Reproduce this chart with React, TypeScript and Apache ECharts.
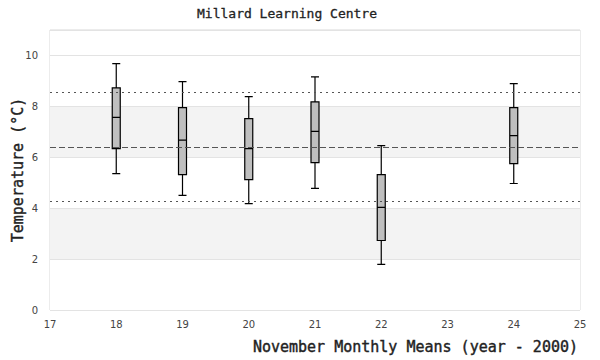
import React, { useEffect, useRef } from "react";
import * as echarts from "echarts";

const years = [18, 19, 20, 21, 22, 24];
const mins = [5.36, 4.5, 4.18, 4.78, 1.79, 4.97];
const q1s = [6.34, 5.32, 5.12, 5.79, 2.73, 5.75];
const medians = [7.57, 6.67, 6.34, 7.02, 4.03, 6.85];
const q3s = [8.73, 7.95, 7.52, 8.18, 5.32, 7.95];
const maxs = [9.68, 8.97, 8.38, 9.16, 6.46, 8.89];

const meanLine = 6.38;
const upperLine = 8.57;
const lowerLine = 4.26;

const titleText = "Millard Learning Centre";
const xName = "November Monthly Means (year - 2000)";
const yName = "Temperature (°C)";

const mono = "DejaVu Sans Mono";
const sans = "DejaVu Sans";

export default function App() {
  const ref = useRef<HTMLDivElement>(null);
  useEffect(() => {
    if (!ref.current) return;
    const chart = echarts.init(ref.current, null, { renderer: "svg" });
    const data = years.map((y, i) => [y, mins[i], q1s[i], medians[i], q3s[i], maxs[i]]);
    const nameStyle = {
      fontFamily: mono,
      fontSize: 15,
      fontWeight: "normal",
      color: "#222",
      textBorderColor: "#222",
      textBorderWidth: 0.4,
    };
    chart.setOption({
      animation: false,
      backgroundColor: "#fff",
      title: {
        text: titleText,
        left: 197,
        top: 7,
        padding: 0,
        textStyle: {
          fontFamily: mono,
          fontSize: 13,
          fontWeight: "normal",
          color: "#222",
          textBorderColor: "#222",
          textBorderWidth: 0.3,
        },
      },
      grid: {
        left: 50,
        right: 20,
        top: 30,
        bottom: 50,
        containLabel: false,
        outerBoundsMode: "none",
        show: true,
        borderColor: "#d9d9d9",
        borderWidth: 1,
        backgroundColor: "transparent",
      },
      xAxis: {
        type: "value",
        min: 17,
        max: 25,
        interval: 1,
        name: xName,
        nameLocation: "end",
        nameGap: 0,
        nameMoveOverlap: false,
        nameTextStyle: {
          ...nameStyle,
          align: "right",
          verticalAlign: "top",
          padding: [29, 2, 0, 0],
        },
        axisLine: { show: false },
        axisTick: { show: false },
        splitLine: { show: false },
        axisLabel: { fontFamily: sans, fontSize: 10, color: "#444", margin: 9 },
      },
      yAxis: {
        type: "value",
        min: 0,
        max: 11,
        interval: 2,
        name: yName,
        nameLocation: "middle",
        nameGap: 25,
        nameMoveOverlap: false,
        nameTextStyle: nameStyle,
        axisLine: { show: false },
        axisTick: { show: false },
        axisLabel: { fontFamily: sans, fontSize: 10, color: "#444", margin: 12, showMaxLabel: false },
        splitLine: { show: true, lineStyle: { color: "#e3e3e3", width: 1 } },
        splitArea: {
          show: true,
          areaStyle: { color: ["#ffffff", "#f3f3f3", "#ffffff", "#f3f3f3", "#ffffff", "#ffffff"] },
        },
      },
      series: [
        {
          type: "boxplot",
          data,
          encode: { x: 0, y: [1, 2, 3, 4, 5] },
          boxWidth: [8, 8],
          itemStyle: { color: "#bfbfbf", borderColor: "#000", borderWidth: 1.2 },
          silent: true,
          markLine: {
            silent: true,
            symbol: "none",
            label: { show: false },
            data: [
              { yAxis: upperLine, lineStyle: { type: [2, 4], color: "#555", width: 1.2 } },
              { yAxis: meanLine, lineStyle: { type: [6, 3], color: "#555", width: 1.2 } },
              { yAxis: lowerLine, lineStyle: { type: [2, 4], color: "#555", width: 1.2 } },
            ],
          },
        },
      ],
    });
    return () => chart.dispose();
  }, []);
  return <div ref={ref} style={{ width: 600, height: 360, position: "absolute", left: 0, top: 0 }} />;
}
